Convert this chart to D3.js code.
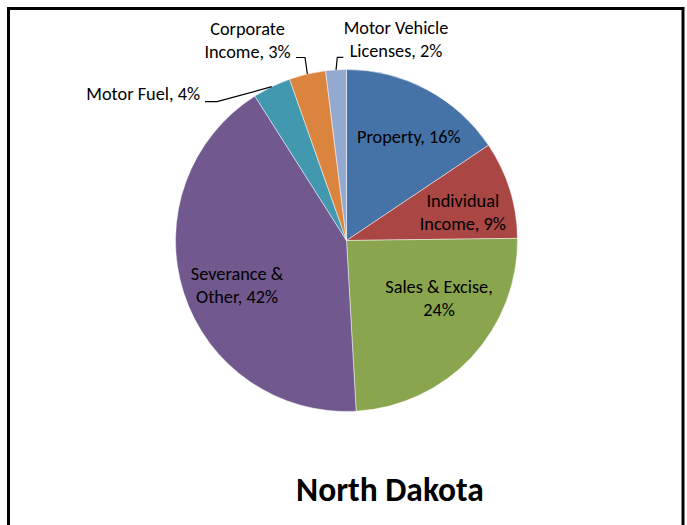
<!DOCTYPE html>
<html>
<head>
<meta charset="utf-8">
<script src="https://cdn.jsdelivr.net/npm/d3@7"></script>
<style>
  body { margin: 0; background: #fff; }
  svg text { font-family: Calibri, Carlito, Lato, "Open Sans", sans-serif; fill: #000; }
</style>
</head>
<body>
<svg id="chart" width="687" height="525"></svg>
<script>
// data (clockwise from 12 o'clock)
var categories = ['Property', 'Individual Income', 'Sales & Excise', 'Severance & Other', 'Motor Fuel', 'Corporate Income', 'Motor Vehicle Licenses'];
var shares = [15.6, 9.2, 24.3, 41.9, 3.6, 3.45, 1.95];
var colors = ['#4572A7', '#AA4643', '#89A54E', '#71588F', '#4198AF', '#DB843D', '#93A9CF'];
var labelLines = [
    ['Property, '],
    ['Individual', 'Income, '],
    ['Sales & Excise,', ''],
    ['Severance &', 'Other, '],
    ['Motor Fuel, '],
    ['Corporate', 'Income, '],
    ['Motor Vehicle', 'Licenses, ']
];
var title = 'North Dakota';

var svg = d3.select('#chart');
var cx = 346.5, cy = 240.5, r = 171;
var fontSize = 18.3;
var lineH = 23;

// frame
svg.append('rect')
    .attr('x', 8.5).attr('y', 8.5)
    .attr('width', 674.5).attr('height', 600)
    .attr('fill', 'none').attr('stroke', '#000').attr('stroke-width', 3);

var data = categories.map(function(c, i) {
    return {name: c, value: shares[i], color: colors[i], lines: labelLines[i]};
});

var pie = d3.pie().sort(null).value(function(d) { return d.value; });
var arcs = pie(data);
var arc = d3.arc().innerRadius(0).outerRadius(r);
var labelArc = d3.arc().innerRadius(r * 0.7).outerRadius(r * 0.7);
var edgeArc = d3.arc().innerRadius(r).outerRadius(r);

var g = svg.append('g').attr('transform', 'translate(' + cx + ',' + cy + ')');

g.selectAll('path').data(arcs).enter().append('path')
    .attr('d', arc)
    .attr('fill', function(d) { return d.data.color; })
    .attr('stroke', '#fff')
    .attr('stroke-opacity', 0.6)
    .attr('stroke-width', 0.8);

function pct(d) { return Math.round(d.data.value) + '%'; }

// labels inside the slices (first four), nudged like Excel does
var nudges = [[6, 2], [2, 7.5], [5, -24.5], [4.5, 7.5]];

arcs.slice(0, 4).forEach(function(d, i) {
    var c = labelArc.centroid(d);
    var x = c[0] + nudges[i][0], y = c[1] + nudges[i][1];
    var lines = d.data.lines.slice();
    lines[lines.length - 1] += pct(d);
    var t = g.append('text')
        .attr('text-anchor', 'middle')
        .style('font-size', fontSize + 'px');
    var y0 = y - (lines.length - 1) * lineH / 2 + fontSize * 0.35;
    lines.forEach(function(l, k) {
        t.append('tspan').attr('x', x).attr('y', y0 + k * lineH).text(l);
    });
});

// outside labels with leader lines
var outside = [
    {x: 200, y: 100, anchor: 'end', elbow: [217, 101.7], end: 205},
    {x: 247.5, y: 35, anchor: 'middle', elbow: [305, 57.5], end: 296},
    {x: 396, y: 33.5, anchor: 'middle', elbow: [337.3, 57.3], end: 343.3}
];

arcs.slice(4).forEach(function(d, i) {
    var o = outside[i];
    var lines = d.data.lines.slice();
    lines[lines.length - 1] += pct(d);
    var t = svg.append('text')
        .attr('text-anchor', o.anchor)
        .style('font-size', fontSize + 'px');
    lines.forEach(function(l, k) {
        t.append('tspan').attr('x', o.x).attr('y', o.y + k * lineH).text(l);
    });
    var e = edgeArc.centroid(d);
    var pts = [[e[0] + cx, e[1] + cy], o.elbow, [o.end, o.elbow[1]]];
    svg.append('path')
        .attr('d', d3.line()(pts))
        .attr('fill', 'none')
        .attr('stroke', '#000')
        .attr('stroke-width', 1.2);
});

svg.append('text')
    .attr('x', 390).attr('y', 501)
    .attr('text-anchor', 'middle')
    .style('font-size', '33.5px')
    .style('font-weight', 'bold')
    .text(title);
</script>
</body>
</html>
